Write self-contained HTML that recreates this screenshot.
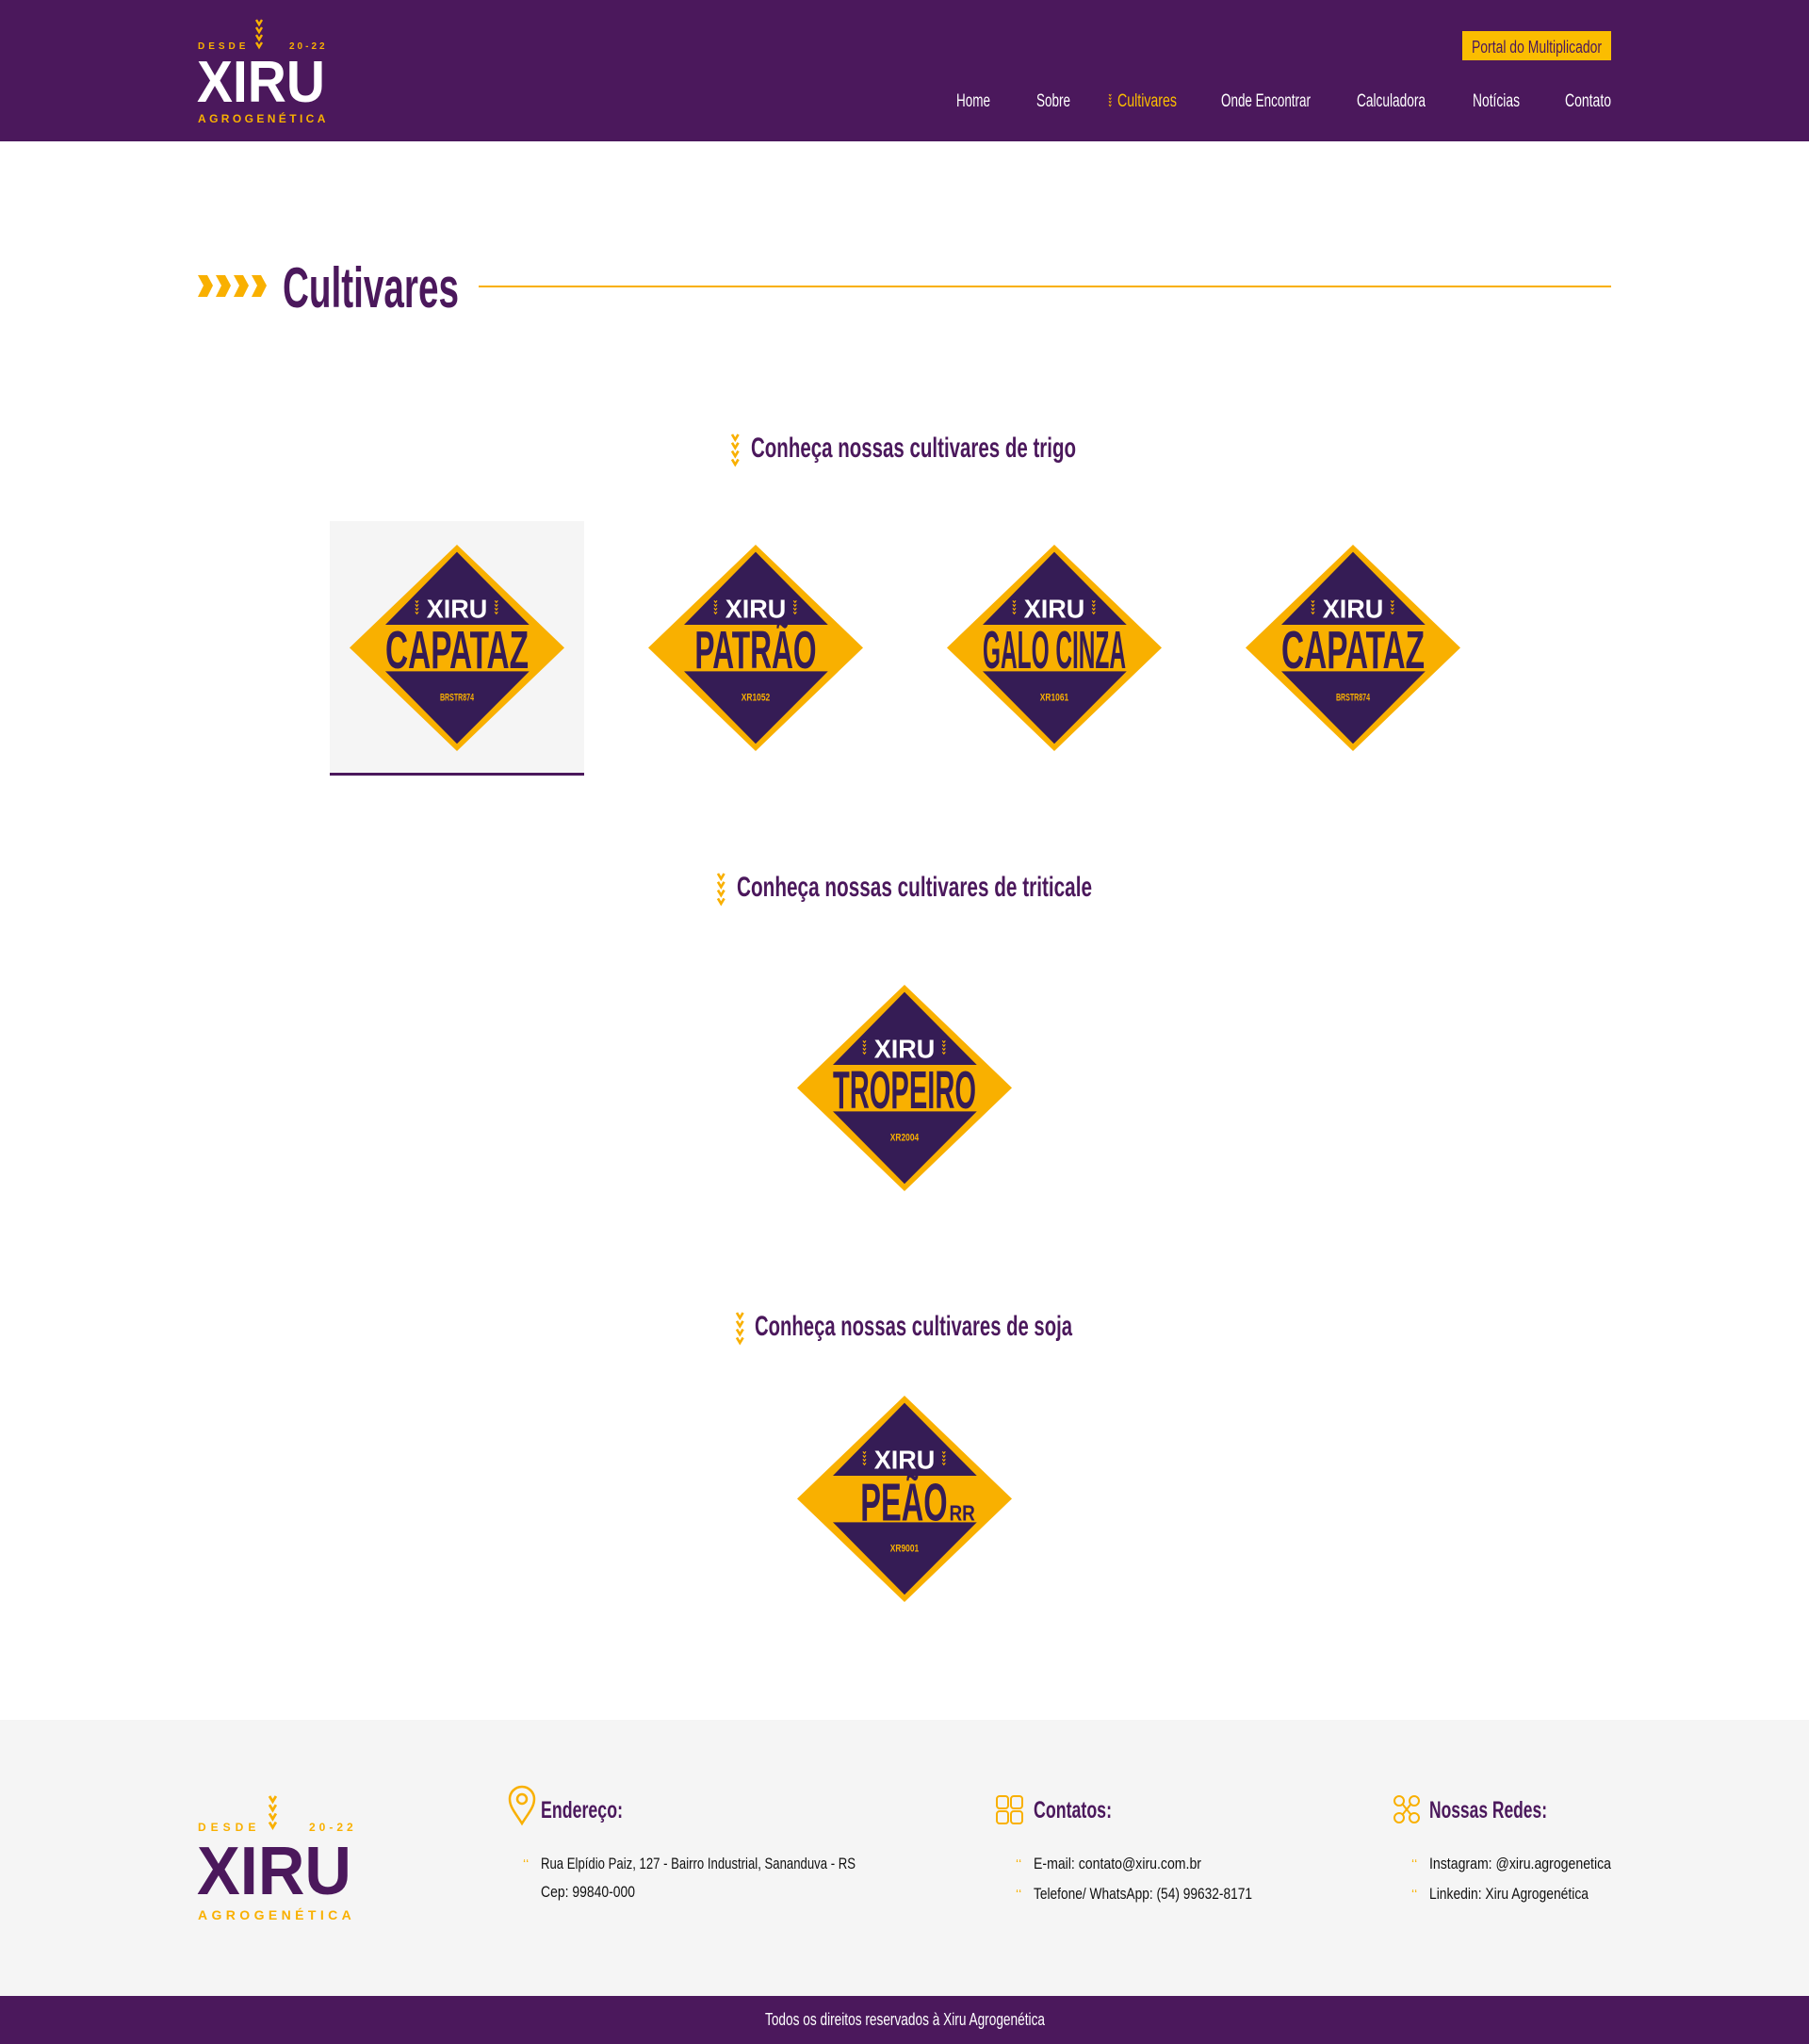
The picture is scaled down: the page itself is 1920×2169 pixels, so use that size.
<!DOCTYPE html>
<html><head><meta charset="utf-8"><style>
html,body{margin:0;padding:0;background:#fff;}
svg{display:block;}
text{font-family:"Liberation Sans",sans-serif;}
</style></head><body>
<svg width="1920" height="2169" viewBox="0 0 1920 2169" xmlns="http://www.w3.org/2000/svg">
<defs>
  <g id="wheat">
    <path d="M0 0 L3 5 L6 0 M0 8 L3 13 L6 8 M0 16 L3 21 L6 16 M0 24 L3 29 L6 24" stroke="#f9b000" stroke-width="2.4" fill="none"/>
  </g>
  <g id="mini">
    <path d="M0 0 L2 3 L4 0 M0 6 L2 9 L4 6 M0 12 L2 15 L4 12 M0 18 L2 21 L4 18" stroke="#f9b000" stroke-width="1.6" fill="none"/>
  </g>
  <g id="dia">
    <polygon points="300,0 600,328 300,657 0,328" fill="#f9b000"/>
    <polygon points="300,23 502,255 100,255" fill="#351c55"/>
    <polygon points="100,403 502,403 300,634" fill="#351c55"/>
    <text x="300" y="232" text-anchor="middle" font-size="82" font-weight="bold" fill="#fff" textLength="170" lengthAdjust="spacingAndGlyphs">XIRU</text>
    <g transform="translate(184,178) scale(2)"><use href="#mini"/></g>
    <g transform="translate(406,178) scale(2)"><use href="#mini"/></g>
  </g>
</defs>

<!-- header -->
<rect x="0" y="0" width="1920" height="150" fill="#4b185c"/>
<g transform="translate(272,21)"><use href="#wheat"/></g>
<text x="210" y="52" font-size="10" font-weight="bold" fill="#f9b000" letter-spacing="4">DESDE</text>
<text x="307" y="52" font-size="10" font-weight="bold" fill="#f9b000" letter-spacing="3">20-22</text>
<text x="209" y="108" font-size="62" font-weight="bold" fill="#fff" textLength="136" lengthAdjust="spacingAndGlyphs">XIRU</text>
<text x="210" y="130" font-size="12" font-weight="bold" fill="#f9b000" letter-spacing="3.4">AGROGENÉTICA</text>

<rect x="1552" y="33" width="158" height="31" fill="#fbbd00"/>
<text x="1562" y="56" font-size="18" fill="#4b185c" textLength="138" lengthAdjust="spacingAndGlyphs">Portal do Multiplicador</text>

<g font-size="19" fill="#fff">
<text x="1015" y="113" textLength="36" lengthAdjust="spacingAndGlyphs">Home</text>
<text x="1100" y="113" textLength="36" lengthAdjust="spacingAndGlyphs">Sobre</text>
<g transform="translate(1177,100) scale(0.6)"><use href="#mini"/></g>
<text x="1186" y="113" fill="#fbbd00" textLength="63" lengthAdjust="spacingAndGlyphs">Cultivares</text>
<text x="1296" y="113" textLength="95" lengthAdjust="spacingAndGlyphs">Onde Encontrar</text>
<text x="1440" y="113" textLength="73" lengthAdjust="spacingAndGlyphs">Calculadora</text>
<text x="1563" y="113" textLength="50" lengthAdjust="spacingAndGlyphs">Notícias</text>
<text x="1661" y="113" textLength="49" lengthAdjust="spacingAndGlyphs">Contato</text>
</g>

<!-- title -->
<g fill="#f9b000">
  <polygon points="210,292 220,292 226,303 220,315 210,315 216,303"/>
  <polygon points="229,292 239,292 245,303 239,315 229,315 235,303"/>
  <polygon points="248,292 258,292 264,303 258,315 248,315 254,303"/>
  <polygon points="267,292 277,292 283,303 277,315 267,315 273,303"/>
</g>
<text x="300" y="326" font-size="60" font-weight="bold" fill="#4b185c" textLength="187" lengthAdjust="spacingAndGlyphs">Cultivares</text>
<rect x="508" y="303" width="1202" height="2" fill="#f9b000"/>

<!-- trigo -->
<g transform="translate(777,461) scale(1.1)"><use href="#wheat"/></g>
<text x="797" y="485" font-size="30" font-weight="bold" fill="#4b185c" textLength="345" lengthAdjust="spacingAndGlyphs">Conheça nossas cultivares de trigo</text>

<rect x="350" y="553" width="270" height="269" fill="#f5f5f5"/>
<rect x="350" y="820" width="270" height="3" fill="#4b185c"/>

<g transform="translate(371,578) scale(0.38,0.3333)">
  <use href="#dia"/>
  <text x="300" y="393" text-anchor="middle" font-size="170" fill="#351c55" font-weight="bold" textLength="400" lengthAdjust="spacingAndGlyphs">CAPATAZ</text>
  <text x="300" y="497" text-anchor="middle" font-size="34" font-weight="bold" fill="#f9b000" textLength="95" lengthAdjust="spacingAndGlyphs">BRSTR874</text>
</g>
<g transform="translate(688,578) scale(0.38,0.3333)">
  <use href="#dia"/>
  <text x="300" y="393" text-anchor="middle" font-size="170" fill="#351c55" font-weight="bold" textLength="340" lengthAdjust="spacingAndGlyphs">PATRÃO</text>
  <text x="300" y="497" text-anchor="middle" font-size="34" font-weight="bold" fill="#f9b000" textLength="80" lengthAdjust="spacingAndGlyphs">XR1052</text>
</g>
<g transform="translate(1005,578) scale(0.38,0.3333)">
  <use href="#dia"/>
  <text x="300" y="393" text-anchor="middle" font-size="170" fill="#351c55" font-weight="bold" textLength="400" lengthAdjust="spacingAndGlyphs">GALO CINZA</text>
  <text x="300" y="497" text-anchor="middle" font-size="34" font-weight="bold" fill="#f9b000" textLength="80" lengthAdjust="spacingAndGlyphs">XR1061</text>
</g>
<g transform="translate(1322,578) scale(0.38,0.3333)">
  <use href="#dia"/>
  <text x="300" y="393" text-anchor="middle" font-size="170" fill="#351c55" font-weight="bold" textLength="400" lengthAdjust="spacingAndGlyphs">CAPATAZ</text>
  <text x="300" y="497" text-anchor="middle" font-size="34" font-weight="bold" fill="#f9b000" textLength="95" lengthAdjust="spacingAndGlyphs">BRSTR874</text>
</g>

<!-- triticale -->
<g transform="translate(762,927) scale(1.1)"><use href="#wheat"/></g>
<text x="782" y="951" font-size="30" font-weight="bold" fill="#4b185c" textLength="377" lengthAdjust="spacingAndGlyphs">Conheça nossas cultivares de triticale</text>
<g transform="translate(846,1045) scale(0.38,0.3333)">
  <use href="#dia"/>
  <text x="300" y="393" text-anchor="middle" font-size="170" fill="#351c55" font-weight="bold" textLength="400" lengthAdjust="spacingAndGlyphs">TROPEIRO</text>
  <text x="300" y="497" text-anchor="middle" font-size="34" font-weight="bold" fill="#f9b000" textLength="80" lengthAdjust="spacingAndGlyphs">XR2004</text>
</g>

<!-- soja -->
<g transform="translate(782,1393) scale(1.1)"><use href="#wheat"/></g>
<text x="801" y="1417" font-size="30" font-weight="bold" fill="#4b185c" textLength="337" lengthAdjust="spacingAndGlyphs">Conheça nossas cultivares de soja</text>
<g transform="translate(846,1481) scale(0.38,0.3333)">
  <use href="#dia"/>
  <text x="177" y="398" font-size="170" fill="#351c55" font-weight="bold" textLength="243" lengthAdjust="spacingAndGlyphs">PEÃO</text>
  <text x="425" y="398" font-size="70" fill="#351c55" font-weight="bold" textLength="72" lengthAdjust="spacingAndGlyphs">RR</text>
  <text x="300" y="497" text-anchor="middle" font-size="34" font-weight="bold" fill="#f9b000" textLength="80" lengthAdjust="spacingAndGlyphs">XR9001</text>
</g>

<!-- footer -->
<rect x="0" y="1825" width="1920" height="293" fill="#f5f5f5"/>
<g transform="translate(286,1906) scale(1.15)"><use href="#wheat"/></g>
<text x="210" y="1943" font-size="12" font-weight="bold" fill="#f9b000" letter-spacing="5">DESDE</text>
<text x="328" y="1943" font-size="12" font-weight="bold" fill="#f9b000" letter-spacing="4">20-22</text>
<text x="209" y="2010" font-size="72" font-weight="bold" fill="#4b185c" textLength="164" lengthAdjust="spacingAndGlyphs">XIRU</text>
<text x="210" y="2037" font-size="14" font-weight="bold" fill="#f9b000" letter-spacing="4.4">AGROGENÉTICA</text>

<!-- Endereço -->
<path d="M554 1935 C548 1925 541 1918 541 1909 A13 13 0 0 1 567 1909 C567 1918 560 1925 554 1935 Z" fill="none" stroke="#f9b000" stroke-width="2.5"/>
<circle cx="554" cy="1909" r="5" fill="none" stroke="#f9b000" stroke-width="2.5"/>
<text x="574" y="1929" font-size="25" font-weight="bold" fill="#4b185c" textLength="87" lengthAdjust="spacingAndGlyphs">Endereço:</text>
<text x="555" y="1983" font-size="14" fill="#f9b000">ʻʻ</text>
<text x="574" y="1983" font-size="17" fill="#111" textLength="334" lengthAdjust="spacingAndGlyphs">Rua Elpídio Paiz, 127 - Bairro Industrial, Sananduva - RS</text>
<text x="574" y="2013" font-size="17" fill="#111" textLength="100" lengthAdjust="spacingAndGlyphs">Cep: 99840-000</text>

<!-- Contatos -->
<g fill="none" stroke="#f9b000" stroke-width="2">
<rect x="1058" y="1906" width="12" height="13" rx="3"/><rect x="1073" y="1906" width="12" height="13" rx="3"/>
<rect x="1058" y="1922" width="12" height="13" rx="3"/><rect x="1073" y="1922" width="12" height="13" rx="3"/>
</g>
<text x="1097" y="1929" font-size="25" font-weight="bold" fill="#4b185c" textLength="83" lengthAdjust="spacingAndGlyphs">Contatos:</text>
<text x="1078" y="1983" font-size="14" fill="#f9b000">ʻʻ</text>
<text x="1097" y="1983" font-size="17" fill="#111" textLength="178" lengthAdjust="spacingAndGlyphs">E-mail: contato@xiru.com.br</text>
<text x="1078" y="2015" font-size="14" fill="#f9b000">ʻʻ</text>
<text x="1097" y="2015" font-size="17" fill="#111" textLength="232" lengthAdjust="spacingAndGlyphs">Telefone/ WhatsApp: (54) 99632-8171</text>

<!-- Redes -->
<g fill="none" stroke="#f9b000" stroke-width="2">
<circle cx="1485" cy="1911" r="5"/><circle cx="1501" cy="1911" r="5"/>
<circle cx="1485" cy="1929" r="5"/><circle cx="1501" cy="1929" r="5"/>
<path d="M1489 1915 L1497 1925 M1497 1915 L1489 1925"/>
</g>
<text x="1517" y="1929" font-size="25" font-weight="bold" fill="#4b185c" textLength="125" lengthAdjust="spacingAndGlyphs">Nossas Redes:</text>
<text x="1498" y="1983" font-size="14" fill="#f9b000">ʻʻ</text>
<text x="1517" y="1983" font-size="17" fill="#111" textLength="193" lengthAdjust="spacingAndGlyphs">Instagram: @xiru.agrogenetica</text>
<text x="1498" y="2015" font-size="14" fill="#f9b000">ʻʻ</text>
<text x="1517" y="2015" font-size="17" fill="#111" textLength="169" lengthAdjust="spacingAndGlyphs">Linkedin: Xiru Agrogenética</text>

<rect x="0" y="2118" width="1920" height="51" fill="#4b185c"/>
<text x="812" y="2149" font-size="18" fill="#fff" textLength="297" lengthAdjust="spacingAndGlyphs">Todos os direitos reservados à Xiru Agrogenética</text>
</svg>
</body></html>
